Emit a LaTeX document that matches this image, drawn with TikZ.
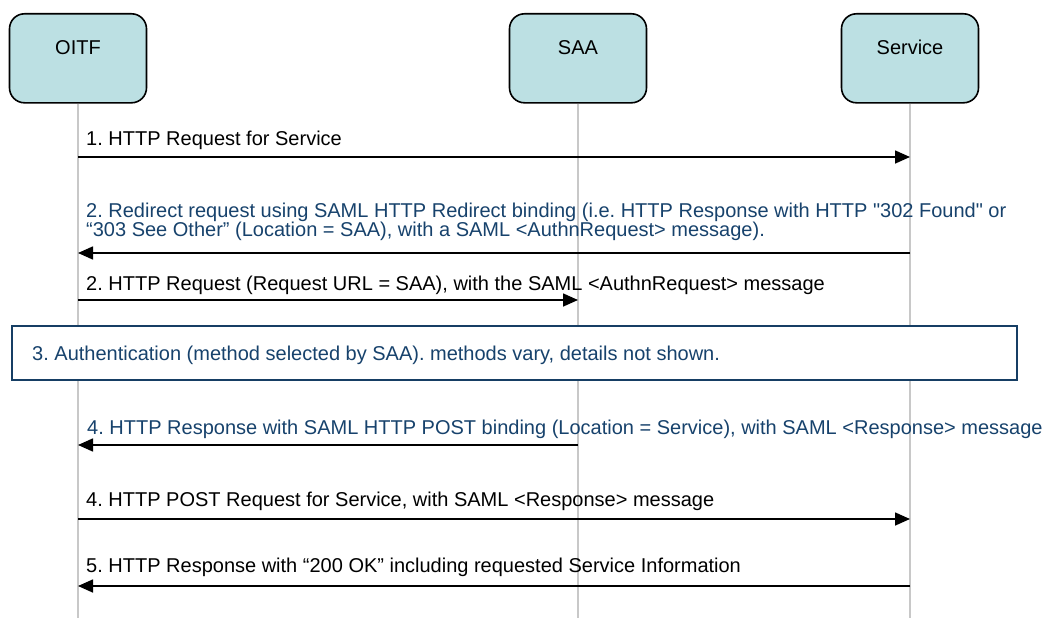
\documentclass[tikz,border=0pt]{standalone}
\usepackage{fontspec}
\newfontfamily\diagfont{Liberation Sans}
\usetikzlibrary{arrows.meta,positioning}

\definecolor{boxfill}{RGB}{188,224,227}
\definecolor{msgblue}{RGB}{23,66,108}
\definecolor{authline}{RGB}{22,62,100}
\definecolor{lifegray}{RGB}{200,200,200}

\tikzset{
    actor/.style={draw=black, line width=1.6pt, fill=boxfill, rounded corners=15pt,
        inner sep=0pt, minimum width=137pt, text height=41pt, text depth=48pt, anchor=north},
    lifeline/.style={draw=lifegray, line width=1.8pt},
    msg/.style={line width=1.6pt, -{Triangle[length=15pt,width=13pt]}},
    lbl/.style={anchor=base west, inner sep=0pt},
    authbox/.style={draw=authline, line width=2pt, fill=white, anchor=north west,
        minimum width=1005pt, minimum height=54pt, inner sep=0pt},
}

\begin{document}
\frenchspacing
\begin{tikzpicture}[x=1pt, y=-1pt, font=\diagfont\fontsize{20}{20}\selectfont]
    \useasboundingbox (0,0) rectangle (1046,618);

    % Participants
    \node[actor] (oitf) at (78,13) {OITF};
    \node[actor] (saa) at (578,13) {SAA};
    \node[actor] (svc) at (910,13) {Service};

    % Lifelines down to the bottom edge
    \coordinate (bottom) at (0,618);
    \foreach \p in {oitf,saa,svc}
        \draw[lifeline] (\p.south) -- (\p |- bottom);

    % Rows of the messages
    \coordinate (r1) at (0,157);
    \coordinate (r2) at (0,253);
    \coordinate (r3) at (0,300);
    \coordinate (r4) at (0,445);
    \coordinate (r5) at (0,519);
    \coordinate (r6) at (0,586);

    % 1. request for the service
    \draw[msg] (oitf |- r1) -- (svc |- r1);
    \node[lbl] (t1) at (86,145) {1. HTTP Request for Service};

    % 2. redirect to the SAA
    \draw[msg] (svc |- r2) -- (oitf |- r2);
    \node[lbl, text=msgblue] (t2a) at (86,217) {2. Redirect request using SAML HTTP Redirect binding (i.e. HTTP Response with HTTP "302 Found" or};
    \node[lbl, text=msgblue] (t2b) at (86,236) {“303 See Other” (Location = SAA), with a SAML <AuthnRequest> message).};

    % 2. request to the SAA
    \draw[msg] (oitf |- r3) -- (saa |- r3);
    \node[lbl] (t3) at (86,290) {2. HTTP Request (Request URL = SAA), with the SAML <AuthnRequest> message};

    % 3. authentication, not detailed
    \node[authbox] (auth) at (11,325) {};
    \node[lbl, text=msgblue] (t4) at (32,360) {3. Authentication (method selected by SAA). methods vary, details not shown.};

    % 4. response from the SAA
    \draw[msg] (saa |- r4) -- (oitf |- r4);
    \node[lbl, text=msgblue] (t5) at (87,434) {4. HTTP Response with SAML HTTP POST binding (Location = Service), with SAML <Response> message};

    % 4. POST to the service
    \draw[msg] (oitf |- r5) -- (svc |- r5);
    \node[lbl] (t6) at (86,506) {4. HTTP POST Request for Service, with SAML <Response> message};

    % 5. service information
    \draw[msg] (svc |- r6) -- (oitf |- r6);
    \node[lbl] (t7) at (86,572) {5. HTTP Response with “200 OK” including requested Service Information};
\end{tikzpicture}
\end{document}
